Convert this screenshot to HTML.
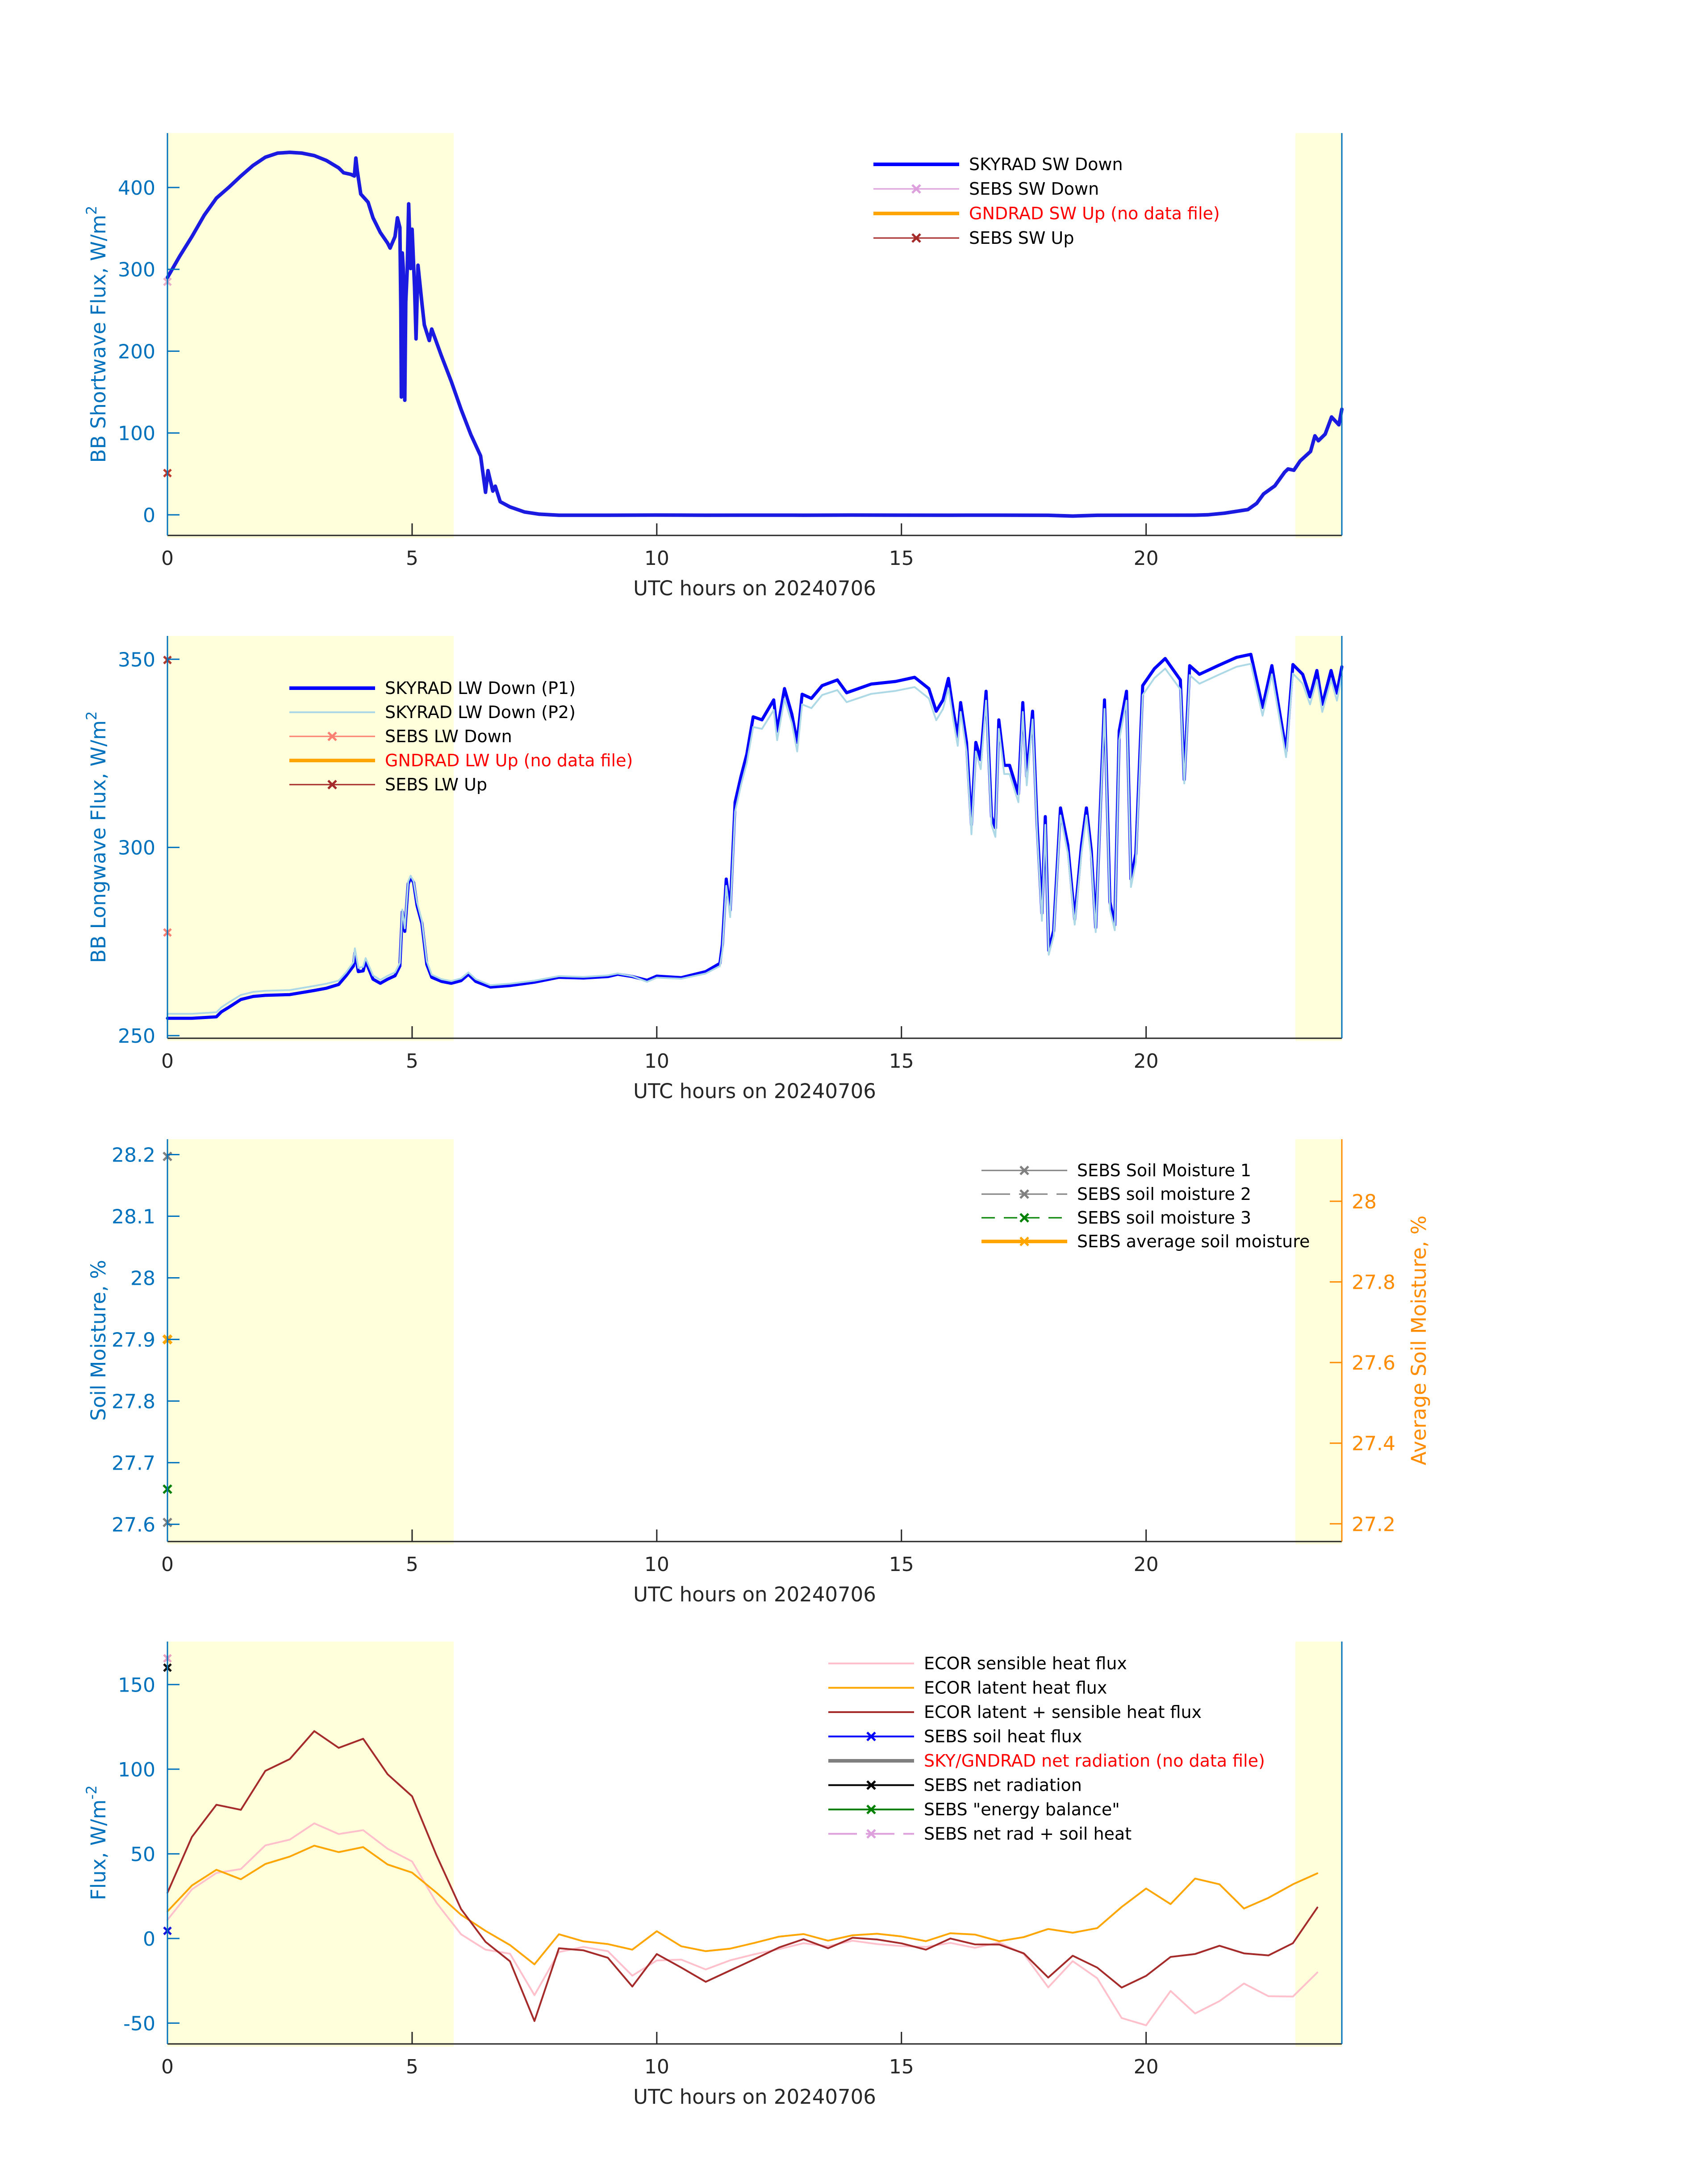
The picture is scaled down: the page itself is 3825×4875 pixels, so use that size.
<!DOCTYPE html>
<html><head><meta charset="utf-8">
<style>
html,body{margin:0;padding:0;background:#fff;}
svg{display:block;}
text{font-family:"DejaVu Sans","Liberation Sans",sans-serif;}
</style></head>
<body>
<svg id="fig" xmlns="http://www.w3.org/2000/svg" width="3825" height="4875" viewBox="0 0 3825 4875"></svg>
<script>
// ---------- DATA ----------
const xTicks = [0,5,10,15,20];
const xLabel = "UTC hours on 20240706";
const dayShade = [[0,5.85],[23.05,24]];

// Panel 1 shortwave
const swTicks = [0,100,200,300,400];
const swHours = [0,0.25,0.5,0.75,1,1.25,1.5,1.75,2,2.25,2.5,2.75,3,3.25,3.5,3.6,3.75,3.82,3.85,3.88,3.95,4.1,4.2,4.35,4.5,4.55,4.65,4.7,4.75,4.77,4.78,4.8,4.82,4.85,4.87,4.9,4.93,4.97,5.0,5.05,5.08,5.12,5.2,5.25,5.35,5.4,5.6,5.8,6.0,6.2,6.4,6.5,6.55,6.65,6.7,6.8,7.0,7.3,7.6,8,9,10,11,12,13,14,15,16,17,18,18.5,19,20,21,21.26,21.6,22.08,22.26,22.4,22.63,22.83,22.9,23.02,23.15,23.36,23.45,23.52,23.66,23.79,23.94,24];
const swDown = [290,316,340,366,387,400,414,427,437,442,443,442,439,433,424,418,416,414,436,420,392,382,363,345,332,326,340,363,351,250,144,320,300,140,260,300,380,301,349,278,215,305,259,232,213,227,194,163,129,98,72,27.5,54,29,35,16,9.6,3.4,0.8,-0.5,-0.5,-0.3,-0.5,-0.4,-0.5,-0.3,-0.4,-0.5,-0.4,-0.6,-1.5,-0.6,-0.5,-0.4,0,2,6.4,14,25.5,35.4,52,56,54.5,66,77.4,96.5,90.5,98.6,119.5,110,129];
const swMarkHours = [0,0];
const swMarkVals = [284.8,51];

// Panel 2 longwave
const lwTicks = [250,300,350];
const lwHours = [0,0.5,1,1.1,1.25,1.5,1.75,2,2.5,3,3.25,3.5,3.65,3.8,3.83,3.9,4,4.05,4.2,4.35,4.5,4.65,4.75,4.8,4.85,4.92,4.97,5.03,5.1,5.2,5.3,5.4,5.6,5.8,6,6.15,6.3,6.6,7,7.5,8,8.5,9,9.2,9.5,9.8,10,10.5,11,11.29,11.34,11.42,11.5,11.6,11.72,11.84,11.97,12.15,12.39,12.46,12.61,12.76,12.87,12.97,13.16,13.38,13.69,13.88,14.38,14.88,15.27,15.56,15.71,15.85,15.96,16.06,16.15,16.21,16.33,16.43,16.52,16.62,16.73,16.84,16.92,16.99,17.1,17.21,17.39,17.48,17.56,17.68,17.77,17.87,17.94,18.01,18.11,18.25,18.4,18.54,18.68,18.78,18.88,18.97,19.15,19.26,19.36,19.45,19.6,19.69,19.79,19.93,20.17,20.39,20.7,20.78,20.89,21.09,21.47,21.85,22.14,22.38,22.57,22.86,23.0,23.2,23.35,23.49,23.6,23.78,23.9,24];
const lwP1 = [254.6,254.6,255,256.3,257.5,259.6,260.4,260.7,260.9,262,
262.6,263.6,265.9,268.5,272,267,267.2,269.8,265,263.9,
265,265.9,268.5,282.9,277.7,290.3,292,290.7,284.6,279.8,
268.9,265.5,264.4,263.9,264.6,266.3,264.4,262.9,263.3,264.2,
265.5,265.3,265.7,266.3,265.7,264.7,265.8,265.4,267,269.2,
274.2,291.6,283.3,312,318.8,324.8,334.7,333.9,339.2,330.9,
342.2,335.4,327.9,340.7,339.6,343,344.5,341.1,343.4,344.1,
345.2,342.2,336.2,339.2,344.9,336.2,329.4,338.5,327.9,306,
327.9,323.3,341.5,308.2,305.2,333.9,321.8,321.8,314.2,338.5,
318.8,336.2,306.7,282.5,308.2,272.6,277.9,310.5,300.6,280.9,
300.6,310.5,299.1,278.7,339.2,285.5,279.4,330.9,341.5,291.6,
298.4,343,347.5,350.2,344.5,318,348.3,346,348.3,350.5,
351.3,337.2,348.3,325.6,348.6,346,340,347,338,347,
341,348];
const lwP2 = [255.8,255.8,256.2,257.5,258.8,260.8,261.6,261.9,262.1,263.2,
263.8,264.6,266.8,269.5,273.2,268,268.3,270.6,266,264.8,
265.9,266.8,269.3,283.5,278.5,291,292.5,291,285.5,280.5,
269.8,266.2,265,264.5,265.2,266.8,265,263.4,263.8,264.6,
265.8,265.6,266,266.5,265.8,264.3,265.4,265.1,266.5,268.5,
272.5,289.8,281.5,309.5,316.5,322.5,332,331.5,336.5,328.5,
339.5,333,325.5,338,337,340.5,341.8,338.6,340.8,341.6,
342.6,339.6,333.8,336.8,342.3,333.8,327,336,325.5,303.5,
325.5,320.8,339,306,302.8,331.5,319.5,319.5,312,336,
316.5,334,304.5,280.5,306,271.5,276.5,308.5,298.5,279.5,
298.5,308.5,297,277.5,336.8,283.5,278,328.5,339,289.5,
296,340.5,345,347.5,342,317,345.8,343.5,345.8,348,
348.8,335,346,324,346.2,343.5,338,344.5,336,344.5,
339,345.5];
const lwMarkHours = [0,0];
const lwMarkVals = [349.8,277.4];

// Panel 3 soil moisture
const smTicksL = [27.6,27.7,27.8,27.9,28,28.1,28.2];
const smTickLabelsL = ["27.6","27.7","27.8","27.9","28","28.1","28.2"];
const smTicksR = [27.2,27.4,27.6,27.8,28];
const smTickLabelsR = ["27.2","27.4","27.6","27.8","28"];
const smVals = [28.197,27.603,27.657,27.9];

// Panel 4 fluxes
const fxTicks = [-50,0,50,100,150];
const fxHours = [0,0.5,1,1.5,2,2.5,3,3.5,4,4.5,5,5.5,6,6.5,7,7.5,8,8.5,9,9.5,10,10.5,11,11.5,12,12.5,13,13.5,14,14.5,15,15.5,16,16.5,17,17.5,18,18.5,19,19.5,20,20.5,21,21.5,22,22.5,23,23.5];
const fxSensible = [11,29,38.7,41,55,58.4,68,61.7,64,53,45.5,21,2.5,-6.6,-9,-33.5,-8,-5,-7.5,-22,-13,-12.5,-18.3,-12.9,-9.3,-6.3,-2.8,-4.6,-1.3,-3.3,-4.5,-5,-2.6,-5.5,-2.4,-9.2,-28.9,-13.4,-23.5,-47,-51.3,-31,-44.3,-37,-26.6,-34.1,-34.3,-20.1];
const fxLatent = [16,31.3,40.6,35,44,48.4,54.8,51,54,43.7,38.9,27,14,4.5,-3.9,-15.3,2.5,-1.7,-3.3,-6.6,4.3,-4.6,-7.5,-6,-2.6,1.1,2.6,-1.3,1.9,2.8,1.2,-1.6,3.1,2.3,-1.6,0.8,5.6,3.4,6.1,18.6,29.5,20.3,35.4,32,17.7,24,32,38.5];
const fxSum = [27,60,79,76,99,106,122.5,112.6,118,97,84,49,17.4,-2,-13.5,-48.8,-5.8,-7,-11.4,-28.4,-9.2,-17.2,-25.6,-18.9,-12.2,-5.3,-0.4,-5.8,0.4,-0.6,-2.9,-6.6,0,-3.5,-3.6,-8.8,-23.1,-10.2,-17.2,-29,-22.1,-10.9,-9.2,-4.3,-8.8,-10,-2.8,18.3];
const fxMarkVals = [165.5,160,4.5];

// ---------- DRAWING ----------
const NS = "http://www.w3.org/2000/svg";
const svg = document.getElementById("fig");
const X0 = 375, X1 = 3005, PH = 901;
const tops = [298,1424,2551,3676];
const BLUE = "#0072bd", DARK = "#262626", ORANGE = "#ff8c00";
function el(tag, attrs, parent){
  const e = document.createElementNS(NS, tag);
  for (const k in attrs) e.setAttribute(k, attrs[k]);
  (parent || svg).appendChild(e);
  return e;
}
function xs(h){ return X0 + (h/24)*(X1-X0); }
function yScale(top, lo, hi){ return v => top + PH - (v-lo)/(hi-lo)*PH; }
function line(g, hs, vs, ys, color, w, dash){
  let d = "";
  for (let i=0;i<hs.length;i++) d += (i?"L":"M") + xs(hs[i]).toFixed(1) + " " + ys(vs[i]).toFixed(1);
  const p = el("path", {d:d, fill:"none", stroke:color, "stroke-width":w, "stroke-linejoin":"round", "stroke-linecap":"round"}, g);
  if (dash) p.setAttribute("stroke-dasharray", dash);
  return p;
}
function xmark(g, x, y, color, s, w){
  const m = el("path", {d:`M${x-s} ${y-s}L${x+s} ${y+s}M${x-s} ${y+s}L${x+s} ${y-s}`, stroke:color, "stroke-width":w||5, fill:"none"}, g);
  return m;
}
function panelBase(idx, ylab, yticks, ys, ylabels, rightColor){
  const top = tops[idx], bot = top + PH;
  const g = el("g", {});
  
  
  for (const s of dayShade){
    const r = el("rect", {x:xs(s[0]), y:top, width:xs(s[1])-xs(s[0]), height:PH+6, fill:"#ffffdc"}, g);
    
    
  }
  const ax = el("g", {}, svg);
  
  
  const xb = el("line", {x1:X0, y1:bot, x2:X1, y2:bot, stroke:DARK, "stroke-width":3}, ax);
  
  
  for (const t of xTicks){
    const tk = el("line", {x1:xs(t), y1:bot, x2:xs(t), y2:bot-27, stroke:DARK, "stroke-width":3}, ax);
    
    
    const tl = el("text", {x:xs(t), y:bot+66, "font-size":44, fill:DARK, "text-anchor":"middle"}, ax);
    tl.textContent = String(t);
    
    
  }
  const xl = el("text", {x:(X0+X1)/2, y:bot+134, "font-size":45, fill:DARK, "text-anchor":"middle"}, ax);
  xl.textContent = xLabel;
  
  
  const yl = el("line", {x1:X0, y1:top, x2:X0, y2:bot, stroke:BLUE, "stroke-width":3}, ax);
  
  
  const yr = el("line", {x1:X1, y1:top, x2:X1, y2:bot, stroke:rightColor||BLUE, "stroke-width":3}, ax);
  
  
  yticks.forEach((t,i)=>{
    const y = ys(t);
    const tk = el("line", {x1:X0, y1:y, x2:X0+27, y2:y, stroke:BLUE, "stroke-width":3}, ax);
    
    
    const tl = el("text", {x:X0-27, y:y+16, "font-size":44, fill:BLUE, "text-anchor":"end"}, ax);
    tl.textContent = ylabels ? ylabels[i] : String(t);
    
    
  });
  const lab = el("text", {x:0, y:0, "font-size":45, fill:BLUE, "text-anchor":"middle", transform:`translate(236 ${top+PH/2}) rotate(-90)`}, ax);
  
  
  if (typeof ylab === "string") lab.textContent = ylab;
  else { lab.textContent = ylab[0]; const sp = el("tspan", {dy:-20, "font-size":32}, lab); sp.textContent = ylab[1]; }
  return g;
}
function legend(items, lx, ly0, dy){
  const lg = el("g", {});
  
  
  items.forEach((it,i)=>{
    const y = ly0 + i*dy;
    const e = el("g", {}, lg);
    
    
    const ln = el("line", {x1:lx, y1:y, x2:lx+192, y2:y, stroke:it.c, "stroke-width":it.w}, e);
    if (it.dash) ln.setAttribute("stroke-dasharray", it.dash);
    if (it.m) xmark(e, lx+96, y, it.m, 9, 5);
    const t = el("text", {x:lx+214, y:y+13, "font-size":38, fill:it.tc||"#000"}, e);
    t.textContent = it.t;
  });
}

// Panel 1
{
  const ys = yScale(tops[0], -25.2, 466.5);
  const g = panelBase(0, ["BB Shortwave Flux, W/m","2"], swTicks, ys);
  const s = line(g, swHours, swDown, ys, "#1a1ae0", 8);
  
  
  const m1 = xmark(g, xs(swMarkHours[0]), ys(swMarkVals[0]), "#e8b0c8", 8, 5);
  
  
  const m2 = xmark(g, xs(swMarkHours[1]), ys(swMarkVals[1]), "#c0392b", 8, 5);
  
  
  legend([
    {t:"SKYRAD SW Down", c:"#0000ff", w:8},
    {t:"SEBS SW Down", c:"#dda0dd", w:3, m:"#dda0dd"},
    {t:"GNDRAD SW Up (no data file)", c:"#ffa500", w:8, tc:"#ff0000"},
    {t:"SEBS SW Up", c:"#a52a2a", w:3, m:"#a52a2a"}
  ], 1956, 368, 55);
}
// Panel 2
{
  const ys = yScale(tops[1], 249.3, 356.2);
  const g = panelBase(1, ["BB Longwave Flux, W/m","2"], lwTicks, ys);
  const a = line(g, lwHours, lwP1, ys, "#0000ff", 7);
  
  
  const b = line(g, lwHours, lwP2, ys, "#add8e6", 4);
  
  
  const m1 = xmark(g, xs(lwMarkHours[0]), ys(lwMarkVals[0]), "#b03a2e", 8, 5);
  
  
  const m2 = xmark(g, xs(lwMarkHours[1]), ys(lwMarkVals[1]), "#fa8072", 8, 5);
  
  
  legend([
    {t:"SKYRAD LW Down (P1)", c:"#0000ff", w:8},
    {t:"SKYRAD LW Down (P2)", c:"#add8e6", w:4},
    {t:"SEBS LW Down", c:"#fa8072", w:3, m:"#fa8072"},
    {t:"GNDRAD LW Up (no data file)", c:"#ffa500", w:8, tc:"#ff0000"},
    {t:"SEBS LW Up", c:"#a52a2a", w:3, m:"#a52a2a"}
  ], 648, 1541, 54);
}
// Panel 3
{
  const ys = yScale(tops[2], 27.572, 28.225);
  const yr = yScale(tops[2], 27.156, 28.154);
  const g = panelBase(2, "Soil Moisture, %", smTicksL, ys, smTickLabelsL, ORANGE);
  const rg = el("g", {});
  
  
  smTicksR.forEach((t,i)=>{
    const y = yr(t);
    el("line", {x1:X1-27, y1:y, x2:X1, y2:y, stroke:ORANGE, "stroke-width":3}, rg);
    const tl = el("text", {x:X1+22, y:y+16, "font-size":44, fill:ORANGE}, rg);
    tl.textContent = smTickLabelsR[i];
  });
  const rl = el("text", {x:0, y:0, "font-size":45, fill:ORANGE, "text-anchor":"middle", transform:`translate(3193 ${tops[2]+PH/2}) rotate(-90)`}, rg);
  rl.textContent = "Average Soil Moisture, %";
  
  
  const cols = ["#808080","#808080","#008000","#ffa500"];
  smVals.forEach((v,i)=>{
    const m = xmark(g, X0, ys(v), cols[i], 9, i==3?7:5);
    
    
  });
  legend([
    {t:"SEBS Soil Moisture 1", c:"#808080", w:3, m:"#808080"},
    {t:"SEBS soil moisture 2", c:"#808080", w:3, m:"#808080", dash:"64 20"},
    {t:"SEBS soil moisture 3", c:"#008000", w:3, m:"#008000", dash:"30 20"},
    {t:"SEBS average soil moisture", c:"#ffa500", w:8, m:"#ffa500"}
  ], 2198, 2621, 53);
}
// Panel 4
{
  const ys = yScale(tops[3], -62.3, 175.4);
  const g = panelBase(3, ["Flux, W/m","-2"], fxTicks, ys);
  const s1 = line(g, fxHours, fxSensible, ys, "#ffc0cb", 4);
  
  
  const s2 = line(g, fxHours, fxLatent, ys, "#ffa500", 4);
  
  
  const s3 = line(g, fxHours, fxSum, ys, "#a52a2a", 4);
  
  
  const mc = ["#e8a0c0","#111111","#1515e0"];
  fxMarkVals.forEach((v,i)=>{
    const m = xmark(g, X0, ys(v), mc[i], 8, 5);
    
    
  });
  legend([
    {t:"ECOR sensible heat flux", c:"#ffc0cb", w:4},
    {t:"ECOR latent heat flux", c:"#ffa500", w:4},
    {t:"ECOR latent + sensible heat flux", c:"#a52a2a", w:4},
    {t:"SEBS soil heat flux", c:"#0000ff", w:4, m:"#0000ff"},
    {t:"SKY/GNDRAD net radiation (no data file)", c:"#808080", w:8, tc:"#ff0000"},
    {t:"SEBS net radiation", c:"#000000", w:4, m:"#000000"},
    {t:"SEBS \"energy balance\"", c:"#008000", w:4, m:"#008000"},
    {t:"SEBS net rad + soil heat", c:"#dda0dd", w:4, m:"#dda0dd", dash:"64 20"}
  ], 1855, 3725, 54.5);
}
</script>
</body></html>
